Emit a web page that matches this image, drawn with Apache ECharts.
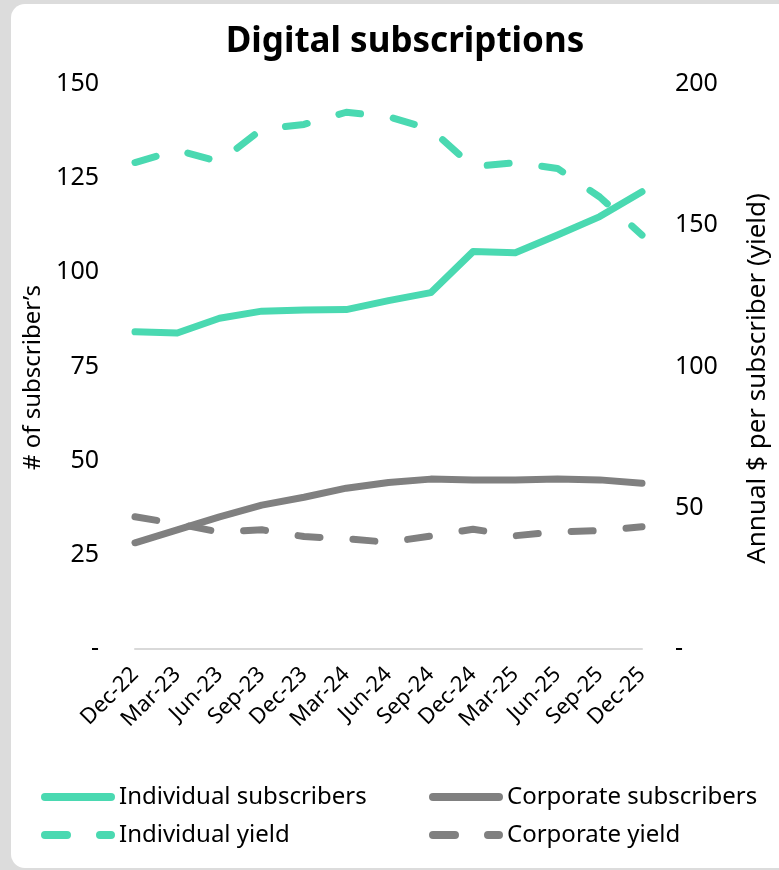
<!DOCTYPE html>
<html>
<head>
<meta charset="utf-8">
<script src="https://cdn.jsdelivr.net/npm/echarts@6/dist/echarts.min.js"></script>
<style>
  html, body { margin: 0; padding: 0; background: #dcdcdc; }
  #card { position: absolute; left: 11px; top: 4px; width: 800px; height: 864px; background: #fff; border-radius: 14px; }
  #main { position: absolute; left: 0; top: 0; width: 779px; height: 870px; }
</style>
</head>
<body>
<div id="card"></div>
<div id="main"></div>
<script>
// categories
const quarters = ['Dec-22', 'Mar-23', 'Jun-23', 'Sep-23', 'Dec-23', 'Mar-24', 'Jun-24',
                  'Sep-24', 'Dec-24', 'Mar-25', 'Jun-25', 'Sep-25', 'Dec-25'];

// # of subscribers (left axis)
const individualSubs = [84.2, 83.9, 87.8, 89.7, 90.0, 90.1, 92.5, 94.6, 105.5, 105.2, 109.9, 114.8, 121.4];
const corporateSubs  = [28.2, 31.6, 35.1, 38.2, 40.3, 42.7, 44.2, 45.1, 44.9, 44.9, 45.1, 44.9, 44.0];

// annual $ per subscriber (right axis)
const individualYield = [172.2, 176.6, 172.5, 184.0, 185.7, 190.0, 188.4, 184.0, 170.7, 172.2, 170.1, 160.0, 146.5];
const corporateYield  = [46.8, 44.3, 41.4, 42.2, 39.8, 39.0, 37.8, 40.0, 42.4, 40.1, 41.5, 41.9, 43.3];

const teal = '#4ad9b1';
const grey = '#808080';
const fontFamily = 'Noto Sans';

const myChart = echarts.init(document.getElementById('main'));

function lineSeries(name, data, color, yAxisIndex, dashed) {
    return {
        name: name,
        type: 'line',
        data: data,
        yAxisIndex: yAxisIndex,
        symbol: 'none',
        smooth: false,
        z: dashed ? 2 : 3,
        lineStyle: {
            color: color,
            width: 7,
            cap: 'round',
            join: 'round',
            type: dashed ? [22, 33] : 'solid'
        },
        itemStyle: { color: color }
    };
}

const legendBase = {
    orient: 'vertical',
    top: 782,
    padding: 0,
    itemWidth: 66,
    itemHeight: 14,
    itemGap: 8,
    itemStyle: { color: 'rgba(0,0,0,0)', borderWidth: 0 },
    lineStyle: { width: 8 },
    textStyle: { fontFamily: fontFamily, fontSize: 24, color: '#000', lineHeight: 30, padding: [0, 0, 0, 3] }
};

const option = {
    animation: false,
    textStyle: { fontFamily: fontFamily },
    title: {
        text: 'Digital subscriptions',
        left: 400,
        textAlign: 'center',
        top: 20,
        textStyle: { fontFamily: fontFamily, fontSize: 35, fontWeight: 'bold', color: '#000' }
    },
    legend: [
        Object.assign({}, legendBase, { left: 41, data: ['Individual subscribers', 'Individual yield'] }),
        Object.assign({}, legendBase, { left: 429, data: ['Corporate subscribers', 'Corporate yield'] })
    ],
    grid: { left: 135, right: 122, top: 84, bottom: 221 },
    xAxis: {
        type: 'category',
        data: quarters,
        boundaryGap: false,
        axisLine: { show: true, lineStyle: { color: '#d9d9d9', width: 2 } },
        axisTick: { show: false },
        axisLabel: { rotate: 45, margin: 22, fontSize: 22, color: '#000', fontFamily: fontFamily, interval: 0 },
        splitLine: { show: false }
    },
    yAxis: [
        {
            type: 'value',
            min: 0, max: 150, interval: 25,
            name: '# of subscriber\u2019s',
            nameLocation: 'middle',
            nameRotate: 90,
            nameGap: 73,
            nameTextStyle: { fontSize: 24, color: '#000', fontFamily: fontFamily, padding: [0, 22, 0, 0] },
            axisLine: { show: false },
            axisTick: { show: false },
            splitLine: { show: false },
            axisLabel: {
                margin: 36, fontSize: 25, color: '#000', fontFamily: fontFamily,
                formatter: v => (v === 0 ? '-' : v)
            }
        },
        {
            type: 'value',
            min: 0, max: 200, interval: 50,
            name: 'Annual $ per subscriber (yield)',
            nameLocation: 'middle',
            nameRotate: 90,
            nameGap: 103,
            nameTextStyle: { fontSize: 26, color: '#000', fontFamily: fontFamily, padding: [0, 24, 0, 0] },
            axisLine: { show: false },
            axisTick: { show: false },
            splitLine: { show: false },
            axisLabel: {
                margin: 33, fontSize: 25, color: '#000', fontFamily: fontFamily,
                formatter: v => (v === 0 ? '-' : v)
            }
        }
    ],
    series: [
        lineSeries('Individual subscribers', individualSubs, teal, 0, false),
        lineSeries('Corporate subscribers', corporateSubs, grey, 0, false),
        lineSeries('Individual yield', individualYield, teal, 1, true),
        lineSeries('Corporate yield', corporateYield, grey, 1, true)
    ]
};

myChart.setOption(option);
</script>
</body>
</html>
